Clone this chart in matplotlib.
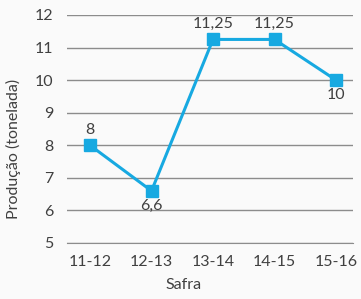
import matplotlib
matplotlib.use("Agg")
import matplotlib.pyplot as plt

categories = ["11-12", "12-13", "13-14", "14-15", "15-16"]
values = [8, 6.6, 11.25, 11.25, 10]
labels = ["8", "6,6", "11,25", "11,25", "10"]
label_pos = ["above", "below", "above", "above", "below"]
yticks = [5, 6, 7, 8, 9, 10, 11, 12]

plt.rcParams['font.family'] = ['Lato', 'DejaVu Sans']
blue = '#17A9E1'
txt = '#404040'
bg = '#FAFAFA'

fig = plt.figure(figsize=(3.61, 2.99), dpi=100, facecolor=bg)
ax = fig.add_axes([67/361, 1-243/299, (353-67)/361, (243-15)/299], facecolor=bg)

x = list(range(len(categories)))
ax.plot(x, values, color=blue, lw=2.2, marker='s', markersize=8.5, zorder=3, clip_on=False)

for xi, v, lab, pos in zip(x, values, labels, label_pos):
    if pos == "above":
        ax.annotate(lab, (xi, v), xytext=(0, 6), textcoords='offset points',
                    ha='center', va='bottom', fontsize=11.5, color=txt)
    else:
        ax.annotate(lab, (xi, v), xytext=(0, -6), textcoords='offset points',
                    ha='center', va='top', fontsize=11.5, color=txt)

ax.set_ylim(5, 12)
ax.set_yticks(yticks)
ax.set_xlim(-0.374, 4.276)
ax.set_xticks(x)
ax.set_xticklabels(categories)
ax.yaxis.grid(True, color='#8C8C8C', lw=1.0)
ax.set_axisbelow(True)
for s in ['top', 'right', 'left']:
    ax.spines[s].set_visible(False)
ax.spines['bottom'].set_color('#8C8C8C')
ax.tick_params(axis='both', length=0, labelsize=11.5, colors=txt)
ax.tick_params(axis='y', pad=10)
ax.tick_params(axis='x', pad=9)

ax.set_xlabel("Safra", fontsize=11.5, color=txt)
ax.xaxis.set_label_coords((184-67)/286, -(285-243)/228, transform=ax.transAxes)
ax.set_ylabel("Produção (tonelada)", fontsize=11.5, color=txt)
ax.yaxis.set_label_coords(-(67-13)/286, (243-149)/228)
ax.xaxis.label.set_va('center')
ax.yaxis.label.set_va('center')

fig.savefig("out.png", dpi=100, facecolor=bg)
